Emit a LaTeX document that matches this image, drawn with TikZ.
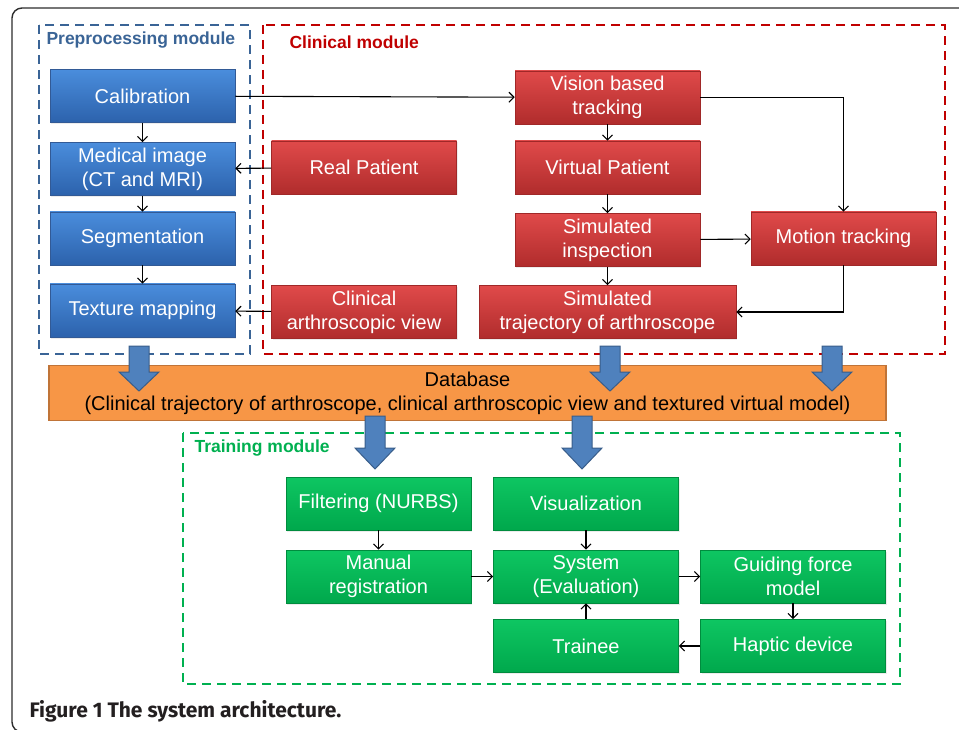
\documentclass[tikz,border=0pt]{standalone}
\usepackage{fontspec}
\setmainfont{Liberation Sans}
\newfontfamily\capfont{Fira Sans}
\usepackage{xcolor}
\usepackage{tikz}
\usetikzlibrary{arrows.meta, shadows}
\definecolor{prepblue}{RGB}{58,100,150}
\definecolor{bluetop}{RGB}{74,141,220}
\definecolor{bluebot}{RGB}{44,98,172}
\definecolor{blueedge}{RGB}{50,90,150}
\definecolor{clinred}{RGB}{192,0,0}
\definecolor{redtop}{RGB}{224,74,74}
\definecolor{redbot}{RGB}{176,44,44}
\definecolor{rededge}{RGB}{160,40,40}
\definecolor{traingreen}{RGB}{0,176,80}
\definecolor{greentop}{RGB}{14,198,98}
\definecolor{greenbot}{RGB}{0,168,76}
\definecolor{greenedge}{RGB}{0,140,62}
\definecolor{dbfill}{RGB}{247,150,70}
\definecolor{dbedge}{RGB}{192,116,56}
\definecolor{fatblue}{RGB}{79,129,189}
\definecolor{fatedge}{RGB}{56,93,138}
\definecolor{framegray}{RGB}{45,45,45}
\definecolor{capgray}{RGB}{35,31,32}
\tikzset{
  box/.style={rectangle, minimum width=185pt, minimum height=53pt,
    inner sep=0pt, align=center, text=white,
    font=\fontsize{20}{24}\selectfont, line width=0.6pt,
    drop shadow={opacity=0.15, shadow xshift=1pt, shadow yshift=-1.5pt}},
  bluebox/.style={box, draw=blueedge, top color=bluetop, bottom color=bluebot},
  redbox/.style={box, draw=rededge, top color=redtop, bottom color=redbot},
  greenbox/.style={box, draw=greenedge, top color=greentop, bottom color=greenbot},
  dbbox/.style={rectangle, draw=dbedge, fill=dbfill, line width=1.2pt,
    minimum width=837pt, minimum height=55pt, inner sep=0pt,
    align=center, font=\fontsize{20}{24}\selectfont},
  module/.style={dash pattern=on 9pt off 6pt, line width=1.8pt},
  modtitle/.style={anchor=west, font=\fontsize{17.5}{20}\selectfont\bfseries},
  arrow/.style={-{Straight Barb[length=5pt,width=10pt]}, line width=1.1pt, color=black},
  fatarrow/.style={draw=fatedge, fill=fatblue, line width=1pt}
}

\begin{document}
\begin{tikzpicture}[x=1pt, y=-1pt]
  \useasboundingbox (0,0) rectangle (959,730);

  % Outer frame
  \draw[framegray, line width=1.4pt, rounded corners=10pt] (12,8) rectangle (990,732);

  % Module frames
  \draw[module, prepblue] (39,25) rectangle (250,354);
  \draw[module, clinred] (263,25) rectangle (945,354);
  \draw[module, traingreen] (183,433) rectangle (900,684);
  \node[modtitle, text=prepblue] (preptitle) at (43,40) {Preprocessing module};
  \node[modtitle, text=clinred] (clintitle) at (286,42) {Clinical module};
  \node[modtitle, text=traingreen] (traintitle) at (191,448) {Training module};

  % Preprocessing module
  \node[bluebox] (calib) at (142.5,96) {Calibration};
  \node[bluebox] (medimg) at (142.5,169) {Medical image\\(CT and MRI)};
  \node[bluebox] (segment) at (142.5,238.5) {Segmentation};
  \node[bluebox] (texture) at (142.5,310.5) {Texture mapping};

  % Clinical module
  \node[redbox] (realpat) at (364,167.5) {Real Patient};
  \node[redbox] (clinview) at (364,312) {Clinical\\arthroscopic view};
  \node[redbox] (vision) at (607.5,97.5) {Vision based\\tracking};
  \node[redbox] (virtpat) at (607.5,167.5) {Virtual Patient};
  \node[redbox] (siminsp) at (607.5,240) {Simulated\\inspection};
  \node[redbox, minimum width=257pt] (simtraj) at (607.5,312) {Simulated\\trajectory of arthroscope};
  \node[redbox] (motion) at (843.5,238.5) {Motion tracking};

  % Database
  \node[dbbox] (db) at (467.5,393) {Database\\(Clinical trajectory of arthroscope, clinical arthroscopic view and textured virtual model)};

  % Training module
  \node[greenbox] (filter) at (378.5,503.5) {Filtering (NURBS)};
  \node[greenbox] (manreg) at (378.5,576.5) {Manual\\registration};
  \node[greenbox] (visual) at (586,503.5) {Visualization};
  \node[greenbox] (system) at (586,576.5) {System\\(Evaluation)};
  \node[greenbox] (trainee) at (586,646) {Trainee};
  \node[greenbox] (guiding) at (793,576.5) {Guiding force\\model};
  \node[greenbox] (haptic) at (793,646) {Haptic device};

  % Connectors
  \draw[arrow] (calib) -- (medimg);
  \draw[arrow] (medimg) -- (segment);
  \draw[arrow] (segment) -- (texture);
  \draw[arrow] (realpat) -- (medimg);
  \draw[arrow] (clinview) -- (texture);
  \draw[arrow] (calib) -- (vision);
  \draw[arrow] (vision) -- (virtpat);
  \draw[arrow] (virtpat) -- (siminsp);
  \draw[arrow] (siminsp) -- (simtraj);
  \draw[arrow] (siminsp) -- (motion);
  \draw[arrow] (vision) -| (motion);
  \draw[arrow] (motion) |- (simtraj);
  \draw[arrow] (filter) -- (manreg);
  \draw[arrow] (manreg) -- (system);
  \draw[arrow] (visual) -- (system);
  \draw[arrow] (system) -- (guiding);
  \draw[arrow] (guiding) -- (haptic);
  \draw[arrow] (haptic) -- (trainee);
  \draw[arrow] (trainee) -- (system);

  % Block arrows into and out of the database
  \foreach \cx/\ya/\yh/\yb in {139/346/372/391, 610/346/372/391, 832/346/372/391,
                               375/416/448/469, 582/416/448/469}
    \draw[fatarrow] (\cx-10,\ya) -- (\cx+10,\ya) -- (\cx+10,\yh) -- (\cx+20,\yh)
      -- (\cx,\yb) -- (\cx-20,\yh) -- (\cx-10,\yh) -- cycle;

  % Caption
  \node[anchor=west, text=capgray, font=\capfont\bfseries\fontsize{21}{24}\selectfont] (caption) at (26,711) {Figure 1 The system architecture.};
\end{tikzpicture}
\end{document}
